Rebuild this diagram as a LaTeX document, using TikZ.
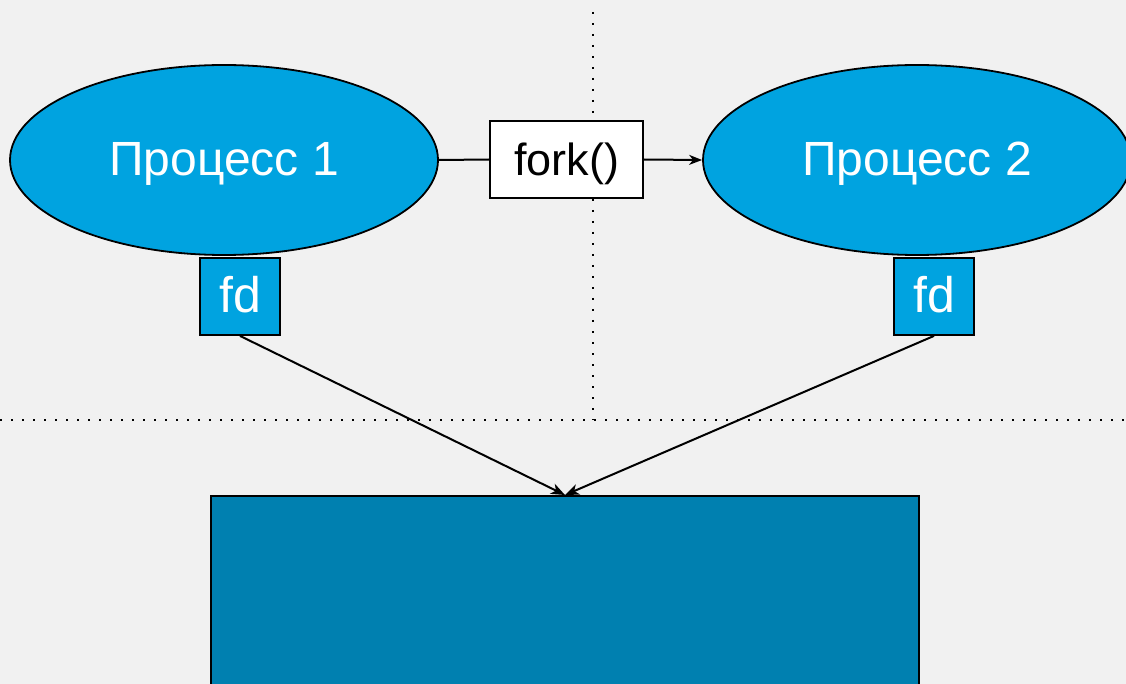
\documentclass[tikz,border=0pt]{standalone}
\usepackage{fontspec}
\setmainfont{Liberation Sans}
\usetikzlibrary{shapes.geometric,arrows.meta}
\definecolor{bgray}{HTML}{F1F1F1}
\definecolor{proc}{HTML}{00A3E0}
\definecolor{store}{HTML}{0080B0}
\tikzset{
  label text/.style={text height=40pt, text depth=8pt},
  proc/.style={ellipse, draw=black, line width=1.8pt, fill=proc, text=white,
    minimum width=428pt, minimum height=190pt, inner sep=0pt,
    font=\fontsize{48}{56}\selectfont, label text},
  fdbox/.style={draw=black, line width=1.8pt, fill=proc, text=white,
    minimum width=80pt, minimum height=77pt, inner sep=0pt,
    font=\fontsize{50}{58}\selectfont, label text},
  callbox/.style={draw=black, line width=1.8pt, fill=white, text=black,
    minimum width=153pt, minimum height=77pt, inner sep=0pt,
    font=\fontsize{45}{54}\selectfont, label text},
  divider/.style={line width=2pt, dash pattern=on 2pt off 9pt},
  link/.style={line width=2pt},
  tip/.style={-{Stealth[length=14pt,width=11pt,inset=4pt]}},
}
\begin{document}
\begin{tikzpicture}[x=1pt,y=-1pt]
  \useasboundingbox (0,0) rectangle (1126,684);
  \clip (0,0) rectangle (1126,684);
  \fill[bgray] (0,0) rectangle (1126,684);

  % dotted dividers
  \coordinate (vtop) at (593,12);
  \coordinate (vbot) at (593,420);
  \coordinate (hl) at (0,420);
  \coordinate (hr) at (1126,420);
  \draw[divider] (vtop) -- (vbot);
  \draw[divider] (hl) -- (hr);

  % shared storage
  \node[draw=black, line width=1.8pt, fill=store, minimum width=708pt,
        minimum height=200pt, inner sep=0pt, anchor=north west] (file) at (210,495) {};

  % processes
  \node[proc] (p1) at (224,160) {Процесс 1};
  \node[proc] (p2) at (917,160) {Процесс 2};

  % fork call
  \node[callbox] (fork) at (566.5,159.5) {fork()};
  \draw[link] (p1.east) -- (fork.west);
  \draw[link,-{Stealth[length=13pt,width=10pt,inset=4pt]}] (fork.east) -- (p2.west);

  % descriptors
  \node[fdbox] (fd1) at (240,296.5) {fd};
  \node[fdbox] (fd2) at (934,296.5) {fd};

  \coordinate (target) at (565,495);
  \draw[link,tip] (fd1.south) -- (target);
  \draw[link,tip] (fd2.south) -- (target);
\end{tikzpicture}
\end{document}
